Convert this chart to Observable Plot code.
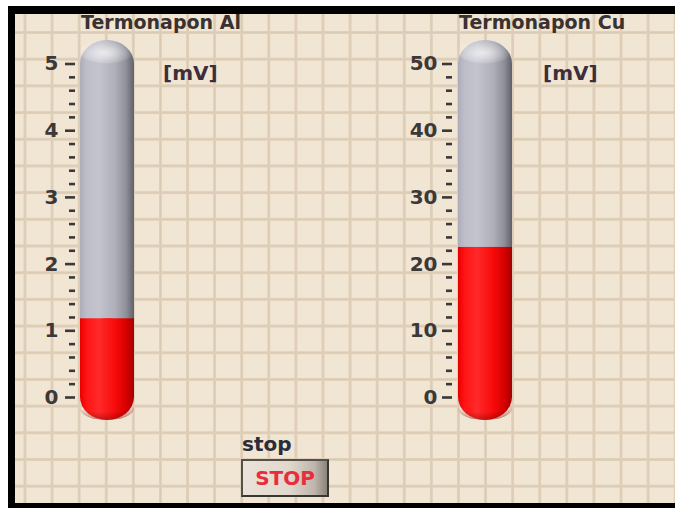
<!DOCTYPE html>
<html>
<head>
<meta charset="utf-8">
<script src="https://cdn.jsdelivr.net/npm/d3@7"></script>
<script src="https://cdn.jsdelivr.net/npm/@observablehq/plot@0.6"></script>
<style>
html, body { margin: 0; padding: 0; background: #fff; }
#panel { position: relative; width: 675px; height: 508px; overflow: hidden; background: #fff; font-family: "DejaVu Sans", sans-serif; }
#frame { position: absolute; left: 8px; top: 6px; width: 667px; height: 502px; background: #000; }
#face { position: absolute; left: 15px; top: 14px; width: 660px; height: 489px; background-color: #f1e5d3;
  background-image: linear-gradient(to right, transparent 0, #e0d0ba 0.5px, #dccbb4 1.5px, #e0d0ba 2.5px, transparent 3px),
                    linear-gradient(to bottom, transparent 0, #e0d0ba 0.5px, #dccbb4 1.5px, #e0d0ba 2.5px, transparent 3px);
  background-size: 27.1px 100%, 100% 26.7px;
  background-position: 8.5px 0, 0 17px; }
.gauge { position: absolute; left: 0; top: 0; pointer-events: none; }
.lbl { position: absolute; white-space: nowrap; line-height: 1; font-weight: bold; }
.title { font-size: 19px; color: #3a3131; }
.unit { font-size: 20px; color: #3d2e3b; }
#stopLbl { font-size: 20px; color: #2c2c38; }
#stopBtn { position: absolute; left: 241px; top: 459px; width: 88px; height: 38px; box-sizing: border-box;
  border: 2px solid #55504a; border-right-color: #3a3632; border-bottom-color: #3a3632;
  background: linear-gradient(to right, #ebe3d8 0%, #e0d8cc 55%, #beb6ac 85%, #8c847c 100%);
  color: #ea2d3c; font-size: 20px; font-weight: bold; text-align: center; line-height: 34px; }
</style>
</head>
<body>
<div id="panel">
  <div id="frame"></div>
  <div id="face"></div>
</div>
<script>
// ---- data ----
const gaugeKeys = ["al", "cu"];
const gaugeNames = ["Termonapon Al", "Termonapon Cu"];
const gaugeValues = [1.18, 22.5];
const gaugeMin = [0, 0];
const gaugeMax = [5, 50];
const unitLabel = "[mV]";
const majorTicksAl = [0, 1, 2, 3, 4, 5];
const minorTicksAl = [0.2, 0.4, 0.6, 0.8, 1.2, 1.4, 1.6, 1.8, 2.2, 2.4, 2.6, 2.8, 3.2, 3.4, 3.6, 3.8, 4.2, 4.4, 4.6, 4.8];
const majorTicksCu = [0, 10, 20, 30, 40, 50];
const minorTicksCu = [2, 4, 6, 8, 12, 14, 16, 18, 22, 24, 26, 28, 32, 34, 36, 38, 42, 44, 46, 48];
const stopLabel = "stop";
const stopText = "STOP";

// ---- layout (page pixels) ----
const W = 675, H = 508;
const layout = [
  { x0: 80, x1: 134, dx: -5, pad: 7, titleX: 81, unitX: 163, major: majorTicksAl, minor: minorTicksAl },
  { x0: 458, x1: 512, dx: -6, pad: 5, titleX: 459, unitX: 543, major: majorTicksCu, minor: minorTicksCu }
];
const CAP_TOP = 23.5, CAP_BOT = 23, R = 27;

const panel = document.getElementById("panel");

function addDefs(svg, key) {
  const defs = d3.select(svg).insert("defs", ":first-child");
  function lin(id, stops) {
    const g = defs.append("linearGradient").attr("id", id)
      .attr("x1", 0).attr("x2", 1).attr("y1", 0).attr("y2", 0);
    stops.forEach(([o, c, a]) => g.append("stop").attr("offset", o).attr("stop-color", c).attr("stop-opacity", a ?? 1));
  }
  function rad(id, cx, cy, r, stops) {
    const g = defs.append("radialGradient").attr("id", id)
      .attr("cx", cx).attr("cy", cy).attr("r", r);
    stops.forEach(([o, c, a]) => g.append("stop").attr("offset", o).attr("stop-color", c).attr("stop-opacity", a ?? 1));
  }
  lin(key + "-gray", [[0, "#adadb9"], [0.12, "#bebec9"], [0.35, "#c4c4ce"], [0.65, "#afafb9"], [0.85, "#90909a"], [1, "#606069"]]);
  lin(key + "-red", [[0, "#e80000"], [0.12, "#ff1414"], [0.35, "#ff2a2a"], [0.65, "#f80a0a"], [0.87, "#d40000"], [1, "#a40000"]]);
  rad(key + "-hl", 0.45, 0.55, 0.55, [[0, "#ffffff", 0.7], [1, "#ffffff", 0]]);
  rad(key + "-bulb", 0.45, 0.05, 1.0, [[0, "#800000", 0], [0.6, "#800000", 0], [1, "#700000", 0.5]]);
}

gaugeKeys.forEach((key, i) => {
  const L = layout[i];
  const row = [{ name: gaugeNames[i], lo: gaugeMin[i], hi: gaugeMax[i], value: gaugeValues[i] }];
  const svg = Plot.plot({
    width: W, height: H,
    marginTop: 63.5, marginBottom: 111,
    marginLeft: L.x0, marginRight: W - L.x1,
    x: { type: "band", domain: [gaugeNames[i]], padding: 0, axis: null },
    y: { domain: [gaugeMin[i], gaugeMax[i]], axis: null, label: null },
    style: { background: "transparent", overflow: "visible", fontFamily: "DejaVu Sans", fontSize: "20px",
             fontWeight: "bold", color: "#3c3838", maxWidth: "none" },
    marks: [
      Plot.barY(row, { x: "name", y1: "lo", y2: "hi", fill: `url(#${key}-gray)`, rx: R, ry: CAP_TOP, insetTop: -CAP_TOP }),
      Plot.barY(row, { x: "name", y1: "hi", y2: "hi", fill: `url(#${key}-hl)`, rx: R, ry: CAP_TOP, insetTop: -CAP_TOP }),
      Plot.barY(row, { x: "name", y1: "lo", y2: "value", fill: `url(#${key}-red)`, rx: R, ry: CAP_BOT, insetBottom: -CAP_BOT }),
      Plot.barY(row, { x: "name", y1: "lo", y2: "value", fill: `url(#${key}-red)` }),
      Plot.barY(row, { x: "name", y1: "lo", y2: "lo", fill: `url(#${key}-bulb)`, rx: R, ry: CAP_BOT, insetBottom: -CAP_BOT }),
      Plot.axisY(L.minor, { anchor: "left", tickSize: 6, dx: L.dx, tickFormat: () => "", strokeWidth: 2.6, label: null }),
      Plot.axisY(L.major, { anchor: "left", tickSize: 10, dx: L.dx, tickPadding: L.pad, tickFormat: d => String(d), strokeWidth: 2.6, label: null })
    ]
  });
  addDefs(svg, key);
  svg.classList.add("gauge");
  panel.appendChild(svg);

  const t = document.createElement("div");
  t.className = "lbl title";
  t.style.left = L.titleX + "px"; t.style.top = "13px";
  t.textContent = gaugeNames[i];
  panel.appendChild(t);

  const u = document.createElement("div");
  u.className = "lbl unit";
  u.style.left = L.unitX + "px"; u.style.top = "63px";
  u.textContent = unitLabel;
  panel.appendChild(u);
});

const s = document.createElement("div");
s.className = "lbl"; s.id = "stopLbl";
s.style.left = "242px"; s.style.top = "434px";
s.textContent = stopLabel;
panel.appendChild(s);

const b = document.createElement("div");
b.id = "stopBtn";
b.textContent = stopText;
panel.appendChild(b);
</script>
</body>
</html>
